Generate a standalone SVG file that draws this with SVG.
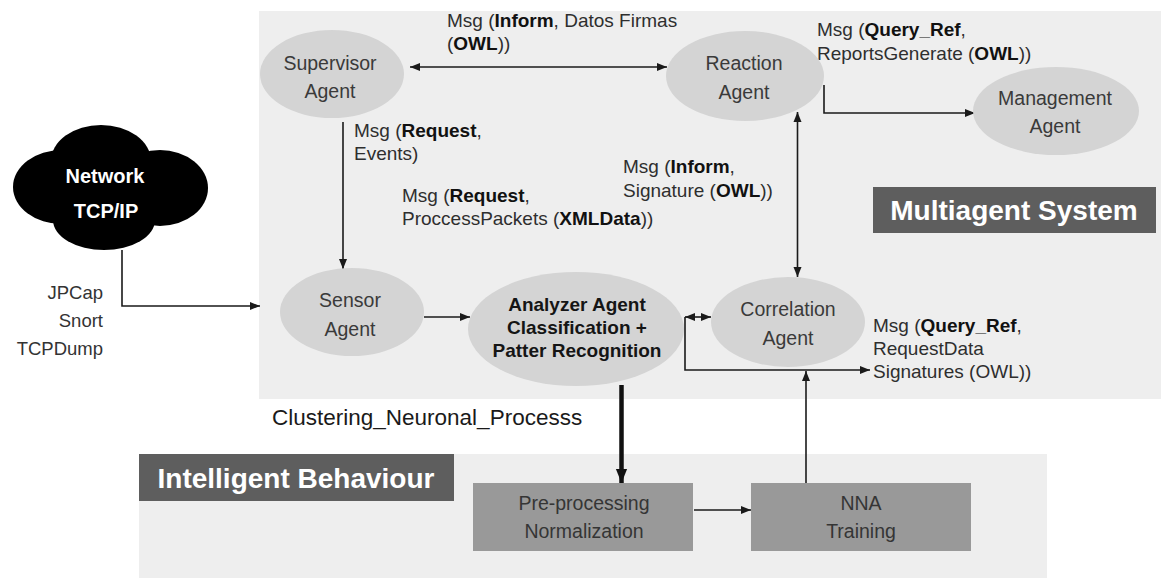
<svg xmlns="http://www.w3.org/2000/svg" width="1161" height="578" viewBox="0 0 1161 578">
  <defs>
    <marker id="ah" viewBox="0 0 10 10" refX="10" refY="5" markerWidth="10" markerHeight="10" markerUnits="userSpaceOnUse" orient="auto-start-reverse">
      <path d="M0,1 L10,5 L0,9 Z" fill="#1a1a1a"/>
    </marker>
    <marker id="ahBig" viewBox="0 0 10 10" refX="10" refY="5" markerWidth="14" markerHeight="14" markerUnits="userSpaceOnUse" orient="auto">
      <path d="M0,1 L10,5 L0,9 Z" fill="#111"/>
    </marker>
    <style>
      .panel { fill: #eeeeee; }
      .tag { fill: #5e5e5e; }
      .tagText { font-family: "Liberation Sans", Arial, sans-serif; font-size: 28px; font-weight: bold; fill: #ffffff; text-anchor: middle; }
      .agent { fill: #d4d4d4; }
      .agentText { font-family: "Liberation Sans", Arial, sans-serif; font-size: 19.5px; fill: #3a3a3a; text-anchor: middle; }
      .boldText { font-family: "Liberation Sans", Arial, sans-serif; font-size: 19px; font-weight: bold; fill: #151515; text-anchor: middle; }
      .box { fill: #999999; }
      .boxText { font-family: "Liberation Sans", Arial, sans-serif; font-size: 19.5px; fill: #353535; text-anchor: middle; }
      .msg { font-family: "Liberation Sans", Arial, sans-serif; font-size: 19px; fill: #2e2e2e; }
      .msg .b { font-weight: bold; fill: #111; }
      .tool { font-family: "Liberation Sans", Arial, sans-serif; font-size: 18.5px; fill: #333; text-anchor: end; }
      .cluster { font-family: "Liberation Sans", Arial, sans-serif; font-size: 22.5px; fill: #1a1a1a; }
      .net { font-family: "Liberation Sans", Arial, sans-serif; font-size: 20px; font-weight: bold; fill: #ffffff; text-anchor: middle; }
      .wire { fill: none; stroke: #1a1a1a; stroke-width: 1.6; }
      .thick { fill: none; stroke: #111; stroke-width: 4.5; }
    </style>
  </defs>

  <rect width="1161" height="578" fill="#ffffff"/>

  <!-- background panels -->
  <g id="multiagent-system">
    <rect class="panel" x="259" y="11" width="902" height="388"/>
    <rect class="tag" x="873" y="187" width="283" height="46"/>
    <text class="tagText" x="1014" y="220">Multiagent System</text>
  </g>
  <g id="intelligent-behaviour">
    <rect class="panel" x="139" y="454" width="908" height="124"/>
    <rect class="tag" x="139" y="454" width="315" height="47"/>
    <text class="tagText" x="296" y="488">Intelligent Behaviour</text>
  </g>

  <!-- connectors -->
  <g id="connectors">
    <line class="wire" x1="410" y1="67" x2="667" y2="67" marker-start="url(#ah)" marker-end="url(#ah)"/>
    <line class="wire" x1="343" y1="122" x2="343" y2="269" marker-end="url(#ah)"/>
    <polyline class="wire" points="122,250 122,306 260,306" marker-end="url(#ah)"/>
    <line class="wire" x1="424" y1="317" x2="470" y2="317" marker-end="url(#ah)"/>
    <line class="wire" x1="685" y1="317" x2="711" y2="317" marker-start="url(#ah)" marker-end="url(#ah)"/>
    <polyline class="wire" points="685,317 685,370 870,370" marker-end="url(#ah)"/>
    <line class="wire" x1="797.5" y1="112" x2="797.5" y2="277" marker-start="url(#ah)" marker-end="url(#ah)"/>
    <polyline class="wire" points="824,85 824,113 975,113" marker-end="url(#ah)"/>
    <line class="thick" x1="621.5" y1="385" x2="621.5" y2="483" marker-end="url(#ahBig)"/>
    <line class="wire" x1="694" y1="510" x2="751" y2="510" marker-end="url(#ah)"/>
    <line class="wire" x1="806" y1="483" x2="806" y2="371" marker-end="url(#ah)"/>
  </g>

  <!-- message labels -->
  <g id="labels">
    <text class="msg" x="447" y="27">Msg (<tspan class="b">Inform</tspan>, Datos Firmas</text>
    <text class="msg" x="447" y="50">(<tspan class="b">OWL</tspan>))</text>
    <text class="msg" x="817" y="36">Msg (<tspan class="b">Query_Ref</tspan>,</text>
    <text class="msg" x="817" y="60">ReportsGenerate (<tspan class="b">OWL</tspan>))</text>
    <text class="msg" x="354" y="137">Msg (<tspan class="b">Request</tspan>,</text>
    <text class="msg" x="354" y="160">Events)</text>
    <text class="msg" x="402" y="202">Msg (<tspan class="b">Request</tspan>,</text>
    <text class="msg" x="402" y="225">ProccessPackets (<tspan class="b">XMLData</tspan>))</text>
    <text class="msg" x="623" y="173">Msg (<tspan class="b">Inform</tspan>,</text>
    <text class="msg" x="623" y="197">Signature (<tspan class="b">OWL</tspan>))</text>
    <text class="msg" x="873" y="332">Msg (<tspan class="b">Query_Ref</tspan>,</text>
    <text class="msg" x="873" y="355">RequestData</text>
    <text class="msg" x="873" y="378">Signatures (OWL))</text>
    <text class="tool" x="103" y="299">JPCap</text>
    <text class="tool" x="103" y="327">Snort</text>
    <text class="tool" x="103" y="355">TCPDump</text>
    <text class="cluster" x="272" y="425">Clustering_Neuronal_Processs</text>
  </g>

  <!-- network cloud -->
  <g id="network">
    <g fill="#000000">
      <ellipse cx="101" cy="161" rx="50" ry="36"/>
      <ellipse cx="62" cy="187" rx="49" ry="37"/>
      <ellipse cx="160" cy="188" rx="48" ry="38"/>
      <ellipse cx="104" cy="220" rx="51" ry="30"/>
      <ellipse cx="108" cy="190" rx="62" ry="42"/>
    </g>
    <text class="net" x="105" y="183">Network</text>
    <text class="net" x="106" y="218">TCP/IP</text>
  </g>

  <!-- agents -->
  <g id="supervisor-agent">
    <ellipse class="agent" cx="332" cy="74" rx="72" ry="44"/>
    <text class="agentText" x="330" y="70">Supervisor</text>
    <text class="agentText" x="330" y="98">Agent</text>
  </g>
  <g id="reaction-agent">
    <ellipse class="agent" cx="745" cy="76" rx="79" ry="45"/>
    <text class="agentText" x="744" y="70">Reaction</text>
    <text class="agentText" x="744" y="99">Agent</text>
  </g>
  <g id="management-agent">
    <ellipse class="agent" cx="1056" cy="111" rx="83" ry="44"/>
    <text class="agentText" x="1055" y="105">Management</text>
    <text class="agentText" x="1055" y="133">Agent</text>
  </g>
  <g id="sensor-agent">
    <ellipse class="agent" cx="352" cy="312" rx="72" ry="44"/>
    <text class="agentText" x="350" y="307">Sensor</text>
    <text class="agentText" x="350" y="336">Agent</text>
  </g>
  <g id="analyzer-agent">
    <ellipse class="agent" cx="576" cy="329" rx="108" ry="57"/>
    <text class="boldText" x="577" y="311">Analyzer Agent</text>
    <text class="boldText" x="577" y="334">Classification +</text>
    <text class="boldText" x="577" y="357">Patter Recognition</text>
  </g>
  <g id="correlation-agent">
    <ellipse class="agent" cx="788" cy="322" rx="77" ry="45"/>
    <text class="agentText" x="788" y="316">Correlation</text>
    <text class="agentText" x="788" y="345">Agent</text>
  </g>

  <!-- processing stages -->
  <g id="preprocessing">
    <rect class="box" x="473" y="483" width="220" height="68"/>
    <text class="boxText" x="584" y="510">Pre-processing</text>
    <text class="boxText" x="584" y="538">Normalization</text>
  </g>
  <g id="nna-training">
    <rect class="box" x="751" y="483" width="220" height="68"/>
    <text class="boxText" x="861" y="510">NNA</text>
    <text class="boxText" x="861" y="538">Training</text>
  </g>
</svg>
